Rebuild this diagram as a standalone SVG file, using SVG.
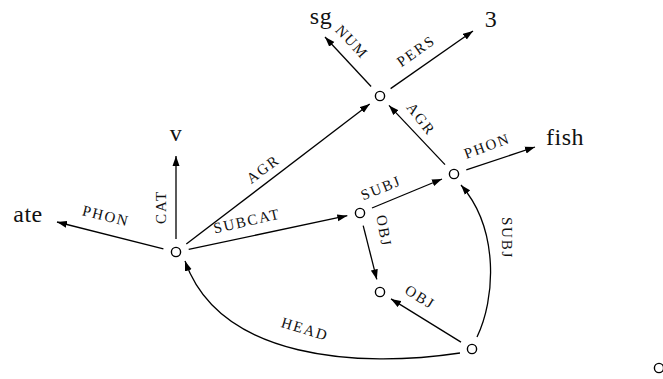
<svg xmlns="http://www.w3.org/2000/svg" width="663" height="379" viewBox="0 0 663 379">
<defs>
<marker id="ah" markerUnits="userSpaceOnUse" markerWidth="11" markerHeight="8" refX="10" refY="4" orient="auto">
<path d="M0,0.5 L10,4 L0,7.5 z" fill="#000"/>
</marker>
<style>
.n{fill:#fff;stroke:#000;stroke-width:1.4}
.e{fill:none;stroke:#000;stroke-width:1.3;marker-end:url(#ah)}
.t{font-family:'Liberation Serif','Times New Roman',serif;font-size:24px;letter-spacing:0.5px;fill:#111}
.l{font-family:'Liberation Serif','Times New Roman',serif;font-size:15px;letter-spacing:1.8px;fill:#111;text-anchor:middle;dominant-baseline:central}
</style>
</defs>
<rect width="663" height="379" fill="#fff"/>
<g id="connectors">
<line class="e" x1="163.4" y1="248.8" x2="57" y2="222"/>
<line class="e" x1="176" y1="239" x2="176" y2="156"/>
<line class="e" x1="186.3" y1="244.1" x2="369.7" y2="103.9"/>
<line class="e" x1="188.7" y1="249.3" x2="347.3" y2="215.7"/>
<line class="e" x1="372" y1="208" x2="442" y2="179"/>
<line class="e" x1="363.2" y1="225.6" x2="376.8" y2="279.4"/>
<line class="e" x1="445" y1="164.6" x2="389" y2="105.4"/>
<line class="e" x1="466.3" y1="169.9" x2="535" y2="147"/>
<line class="e" x1="371.1" y1="86.5" x2="325" y2="37"/>
<line class="e" x1="390.6" y1="88.6" x2="473" y2="31"/>
<line class="e" x1="461" y1="342.1" x2="391" y2="298.9"/>
<path class="e" d="M477,337 C495,300 500,230 461,185"/>
<path class="e" d="M460,353 C360,368 220,360 185,261"/>
<text class="l" transform="translate(106,216) rotate(14)">PHON</text>
<text class="l" transform="translate(161,207) rotate(-90)">CAT</text>
<text class="l" transform="translate(263,169) rotate(-37)">AGR</text>
<text class="l" transform="translate(247,221) rotate(-13)">SUBCAT</text>
<text class="l" transform="translate(381,188) rotate(-22)">SUBJ</text>
<text class="l" transform="translate(384,231) rotate(80)">OBJ</text>
<text class="l" transform="translate(421,119) rotate(52)">AGR</text>
<text class="l" transform="translate(487,146) rotate(-20)">PHON</text>
<text class="l" transform="translate(352,42) rotate(47)">NUM</text>
<text class="l" transform="translate(416,51) rotate(-35)">PERS</text>
<text class="l" transform="translate(420,297) rotate(32)">OBJ</text>
<text class="l" transform="translate(507,238) rotate(90)">SUBJ</text>
<text class="l" transform="translate(305,329) rotate(17)">HEAD</text>
</g>
<g id="n-main"><circle class="n" cx="176" cy="252" r="4.6"/></g>
<g id="n-agr"><circle class="n" cx="380" cy="96" r="4.6"/></g>
<g id="n-subj"><circle class="n" cx="454" cy="174" r="4.6"/></g>
<g id="n-subcat"><circle class="n" cx="360" cy="213" r="4.6"/></g>
<g id="n-obj"><circle class="n" cx="380" cy="292" r="4.6"/></g>
<g id="n-head"><circle class="n" cx="472" cy="349" r="4.6"/></g>
<g id="n-stray"><circle class="n" cx="659" cy="368" r="4.6"/></g>
<g id="n-sg"><text class="t" x="321" y="24" text-anchor="middle">sg</text></g>
<g id="n-3"><text class="t" x="491" y="27" text-anchor="middle">3</text></g>
<g id="n-v"><text class="t" x="176" y="141" text-anchor="middle">v</text></g>
<g id="n-ate"><text class="t" x="28" y="222" text-anchor="middle">ate</text></g>
<g id="n-fish"><text class="t" x="565" y="145" text-anchor="middle">fish</text></g>
</svg>
